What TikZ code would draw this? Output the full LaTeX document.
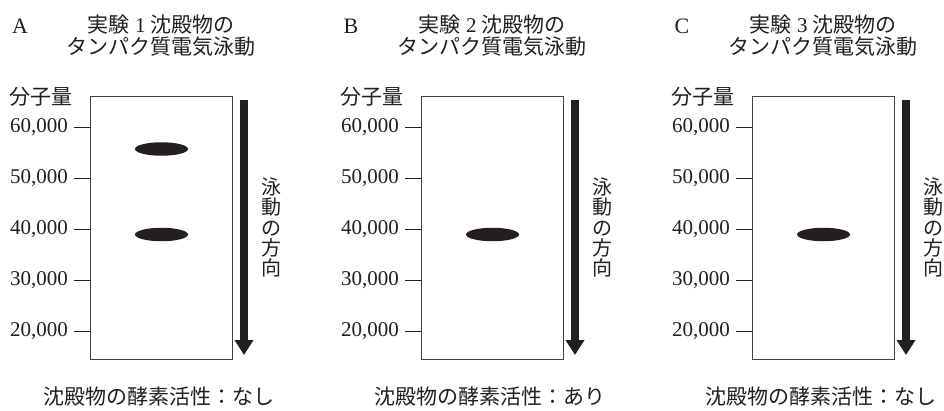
\documentclass[tikz,border=0pt]{standalone}
\usepackage{fontspec}
\setmainfont{Liberation Serif}
\newfontfamily\jp{Noto Sans CJK JP}
\usetikzlibrary{shapes.geometric,arrows.meta}
\definecolor{ink}{HTML}{231F20}
\begin{document}
\begin{tikzpicture}[x=1pt,y=-1pt,
  every node/.style={text=ink, inner sep=0pt},
  txt/.style={font=\fontsize{21}{25}\selectfont},
  jtxt/.style={font=\jp\fontsize{21}{25}\selectfont},
  gel/.style={draw=ink!85, line width=0.9pt, minimum width=142.7pt, minimum height=263.3pt},
  band/.style={ellipse, fill=ink, minimum width=53pt, minimum height=13.5pt},
  runarrow/.style={draw=ink, line width=8pt, -{Triangle[width=18pt,length=15pt]}},
  tickline/.style={draw=ink, line width=0.9pt},
  ]
\useasboundingbox[fill=white] (0,0) rectangle (944,410);
\foreach \p/\dx/\n/\res/\bands in {A/0/1/なし/{149,234.5}, B/331/2/あり/{234.5}, C/662/3/なし/{234.5}}{
  \begin{scope}[xshift=\dx]
    \node[font=\fontsize{22}{26}\selectfont] (lab\p) at (20,26) {\p};
    \node[align=center, font=\jp\fontsize{21}{21.5}\selectfont] (title\p) at (161.3,35.5)
      {実験\hspace{0.25em}{\rmfamily\n}\hspace{0.25em}沈殿物の\\タンパク質電気泳動};
    \node[gel] (box\p) at (161.3,227.6) {};
    \node[jtxt, anchor=east] (mw\p) at (72.5,97) {分子量};
    \foreach \v [count=\i from 0] in {60,50,40,30,20} {
      \node[txt, anchor=east] (n\p\v) at (68,{127+51*\i}) {\v,000};
      \draw[tickline] ([xshift=6pt]n\p\v.east) -- (n\p\v.east -| box\p.west);
    }
    \foreach \b [count=\k] in \bands {
      \node[band] (band\p\k) at (161.5,\b) {};
    }
    \coordinate (at\p) at (244,100);
    \coordinate (ab\p) at (244,355);
    \draw[runarrow] (at\p) -- (ab\p);
    \node[align=center, font=\jp\fontsize{20}{20.25}\selectfont] (dir\p) at (271,227.5) {泳\\動\\の\\方\\向};
    \node[jtxt] (res\p) at (159,397) {沈殿物の酵素活性：\res};
  \end{scope}
}
\end{tikzpicture}
\end{document}
